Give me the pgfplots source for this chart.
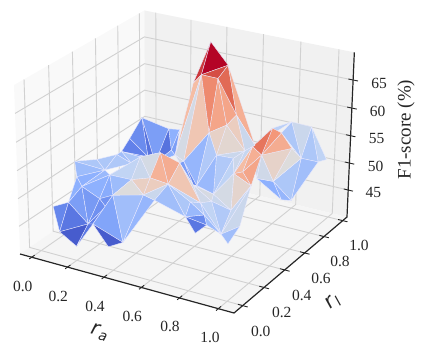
\documentclass[border=0pt]{standalone}
\usepackage{pgfplots}
\usepackage{pgfplotstable}
\usepackage{fontspec}
\pgfplotsset{compat=1.18}
\setmainfont{Liberation Serif}
\newfontfamily\dejavu{DejaVu Sans}

% surface points: r_a, r_l, F1-score (%)
\pgfplotstableread{
ra rl f1
0.79 0.996 56
0.90 0.99 56
0.98 1.00 50.5
1.00 0.87 52
0.94 0.81 53
0.93 0.62 60
0.93 0.53 62
0.92 0.36 61
0.94 0.41 59
0.965 0.66 57
0.92 0.57 52
0.78 0.67 50
0.99 0.52 50
1.00 0.60 48.8
0.40 0.89 69
0.48 0.92 65
0.43 0.75 65
0.47 0.84 63.5
0.345 0.82 62
0.65 0.70 60
0.62 0.66 58.5
0.56 0.60 57.5
0.44 0.49 54
0.51 0.45 54
0.74 0.72 55
0.73 0.64 55
0.64 0.53 55
0.695 0.595 54
0.575 0.46 50
0.75 0.31 52
0.81 0.39 55
0.91 0.29 57.5
0.97 0.26 56
0.93 0.15 53
0.78 0.24 52
0.745 0.20 52
0.62 0.35 52
0.60 0.26 57
0.53 0.205 59
0.64 0.09 56
0.60 0.00 58
0.44 0.10 55
0.39 0.02 53
0.54 0.04 54
0.55 0.12 52
0.64 0.29 50
0.64 0.245 48
0.72 0.28 48.5
0.71 0.32 46
0.65 0.32 44
0.87 0.17 48
0.96 0.18 50
1.00 0.00 50
0.00 0.91 52
0.12 0.97 50
0.172 0.99 50
0.265 0.75 50
0.21 0.69 48
0.175 0.68 49
0.03 0.67 49
0.015 0.77 50
0.31 0.39 54
0.00 0.30 52
0.08 0.37 52
0.195 0.26 52.5
0.07 0.21 51
0.15 0.13 51
0.26 0.20 53
0.28 0.36 53
0.26 0.11 50
0.30 0.10 49
0.25 0.065 46
0.23 0.055 46
0.09 0.105 48
0.02 0.08 47
0.08 0.04 43.5
0.20 0.00 42.5
0.33 0.07 42.5
0.41 0.07 44
0.131 0.466 52
}\verts

\pgfplotsset{
  table/proj/.style={
    x expr={scrx(uu(\thisrow{ra}),vv(\thisrow{rl}),ww(\thisrow{f1}))},
    y expr={scry(uu(\thisrow{ra}),vv(\thisrow{rl}),ww(\thisrow{f1}))},
  },
  gridline/.style={no marks,draw=black!18,line width=0.9pt},
  spine/.style={no marks,draw=black!85,line width=1.2pt},
  tickline/.style={no marks,draw=black!85,line width=0.9pt},
}

\begin{document}
\begin{tikzpicture}[
  declare function={
    uu(\a)=0.0578+0.8728*\a;
    vv(\a)=0.0707+0.888*\a;
    ww(\a)=0.1693+0.0334*(\a-45);
    wpersp(\u,\v,\w)=1-0.05744*\u+0.09154*\v-0.04*\w;
    scrx(\u,\v,\w)=(200.56*\u+138.27*\v-6.56*\w+20)/wpersp(\u,\v,\w);
    scry(\u,\v,\w)=(41.02*\u-70.62*\v-172.4*\w+254)/wpersp(\u,\v,\w);
  }]
\begin{axis}[
  scale only axis,
  width=426pt,
  height=353pt,
  xmin=0, xmax=426,
  ymin=0, ymax=353,
  y dir=reverse,
  hide axis,
  clip=false,
  point meta min=44,
  point meta max=65,
  colormap={coolwarm}{rgb255=(59,76,192) rgb255=(98,130,234) rgb255=(141,176,254)
    rgb255=(192,212,245) rgb255=(221,220,220) rgb255=(245,193,169) rgb255=(244,152,122)
    rgb255=(221,96,76) rgb255=(180,4,38)},
  colormap name=coolwarm,
]
% keep the page at the full size of the axis
\path (axis cs:0,0) rectangle (axis cs:426,353);
% panes
\addplot[fill=black!2.5,draw=none,forget plot] table[row sep=\\,proj] {
ra rl f1\\ -0.0662 -0.0796 39.93\\ -0.0662 1.0465 39.93\\ -0.0662 1.0465 69.87\\ -0.0662 -0.0796 69.87\\ -0.0662 -0.0796 39.93\\};
\addplot[fill=black!5.5,draw=none,forget plot] table[row sep=\\,proj] {
ra rl f1\\ -0.0662 1.0465 39.93\\ 1.0795 1.0465 39.93\\ 1.0795 1.0465 69.87\\ -0.0662 1.0465 69.87\\ -0.0662 1.0465 39.93\\};
\addplot[fill=black!4,draw=none,forget plot] table[row sep=\\,proj] {
ra rl f1\\ -0.0662 -0.0796 39.93\\ 1.0795 -0.0796 39.93\\ 1.0795 1.0465 39.93\\ -0.0662 1.0465 39.93\\ -0.0662 -0.0796 39.93\\};
% grid
\pgfplotsinvokeforeach{0,0.2,0.4,0.6,0.8,1}{
  \addplot[gridline] table[row sep=\\,proj] {
  ra rl f1\\ #1 -0.0796 39.93\\ #1 1.0465 39.93\\ #1 1.0465 69.87\\};
  \addplot[gridline] table[row sep=\\,proj] {
  ra rl f1\\ 1.0795 #1 39.93\\ -0.0662 #1 39.93\\ -0.0662 #1 69.87\\};
}
\pgfplotsinvokeforeach{45,50,55,60,65}{
  \addplot[gridline] table[row sep=\\,proj] {
  ra rl f1\\ -0.0662 -0.0796 #1\\ -0.0662 1.0465 #1\\ 1.0795 1.0465 #1\\};
}
% spines and tick marks
\addplot[spine] table[row sep=\\,proj] {
ra rl f1\\ -0.0662 -0.0796 39.93\\ 1.0795 -0.0796 39.93\\ 1.0795 1.0465 39.93\\ 1.0795 1.0465 69.87\\};
\pgfplotsinvokeforeach{0,0.2,0.4,0.6,0.8,1}{
  \addplot[tickline] table[row sep=\\,proj] {
  ra rl f1\\ #1 -0.1 39.93\\ #1 -0.055 39.93\\};
  \addplot[tickline] table[row sep=\\,proj] {
  ra rl f1\\ 1.055 #1 39.93\\ 1.105 #1 39.93\\};
}
\pgfplotsinvokeforeach{45,50,55,60,65}{
  \addplot[tickline] table[row sep=\\,proj] {
  ra rl f1\\ 1.055 1.0465 #1\\ 1.105 1.0465 #1\\};
}
% surface, back to front; last column of each row is the facet's mean F1-score
\addplot[patch,shader=faceted,faceted color=white!92!blue,line width=0.35pt,
  table/row sep=\\,
  patch table with point meta={
53 54 57 48.2\\
53 58 57 45.9\\
53 60 58 47.2\\
60 59 58 46.6\\
54 55 56 49.3\\
54 56 57 45.9\\
55 22 56 48.2\\
56 22 57 49.3\\
0 1 4 52.8\\
1 2 3 51.9\\
1 3 4 50.9\\
0 4 5 50.9\\
0 6 24 51.6\\
24 6 7 52.0\\
4 3 13 50.3\\
4 13 10 50.9\\
10 13 12 49.7\\
11 10 12 49.3\\
9 4 10 54.5\\
8 9 10 55.5\\
8 10 11 53.2\\
7 8 11 53.2\\
5 9 8 58.5\\
6 5 8 59.8\\
7 6 8 61.4\\
14 18 16 63.5\\
14 15 16 65\\
16 15 17 62.9\\
18 22 16 57.4\\
16 22 23 53.7\\
16 23 21 56.6\\
16 17 21 60.4\\
17 20 21 58.9\\
17 19 20 58.9\\
17 15 19 61.9\\
15 24 19 58.3\\
19 24 25 52.8\\
20 19 25 56\\
20 25 26 55.1\\
21 20 26 55.6\\
23 21 28 49.7\\
21 26 28 51.1\\
26 25 27 52.8\\
26 27 29 51.1\\
28 26 29 49.9\\
27 30 29 51.8\\
27 25 30 53\\
25 7 30 52.4\\
22 23 37 53.7\\
23 28 36 47.2\\
23 36 37 48.2\\
28 29 36 49.9\\
30 7 31 57.4\\
31 7 8 58.3\\
31 8 32 58.9\\
30 31 32 58.3\\
30 32 33 55.3\\
29 30 33 53.7\\
36 29 34 53.9\\
36 34 35 53.2\\
29 33 34 52.8\\
37 36 35 53.9\\
62 63 64 50.9\\
63 79 64 50.9\\
79 59 68 50.3\\
79 68 64 51\\
62 64 65 50.1\\
65 64 66 49.3\\
64 67 66 49.9\\
59 58 61 48.2\\
59 61 68 50.9\\
58 57 61 50.3\\
57 38 61 53.7\\
61 68 67 52\\
61 67 41 52\\
61 41 40 52.8\\
61 40 38 53.7\\
67 41 42 50.1\\
66 67 69 49.3\\
67 42 69 49\\
65 73 66 49.3\\
66 73 72 48.2\\
66 72 69 48\\
69 72 70 47.4\\
70 72 71 46.6\\
69 42 70 47.6\\
70 42 71 47.6\\
71 42 78 48.6\\
42 43 78 50.3\\
43 44 78 49.7\\
71 78 77 44.8\\
74 73 75 46.9\\
73 72 75 46.1\\
75 72 76 44.8\\
76 72 71 46.1\\
46 47 48 47.2\\
46 48 49 46.1\\
38 37 39 58.5\\
38 39 40 58.1\\
37 35 39 56.6\\
40 39 43 56\\
41 40 43 55.8\\
42 41 43 54.5\\
43 39 44 52.8\\
44 39 46 50.3\\
39 45 46 50.9\\
39 35 45 52\\
46 45 47 49.9\\
45 35 47 51.1\\
35 34 50 52\\
47 35 50 51.1\\
47 50 48 50.1\\
34 33 50 51.1\\
33 32 50 52.4\\
50 32 51 52.8\\
50 51 52 50.3\\
  }] table[proj] {\verts};
% tick labels and axis labels
\begin{scope}[every node/.style={font=\fontsize{15.5}{16}\selectfont,text=black!85}]
\node at (axis cs:22.7,286) {0.0};
\node at (axis cs:58.3,296) {0.2};
\node at (axis cs:95,306) {0.4};
\node at (axis cs:132.3,316.7) {0.6};
\node at (axis cs:170,326.7) {0.8};
\node at (axis cs:210,337.7) {1.0};
\node at (axis cs:260.7,331.7) {0.0};
\node at (axis cs:281.7,312.7) {0.2};
\node at (axis cs:301.7,295) {0.4};
\node at (axis cs:321,278.3) {0.6};
\node at (axis cs:340,261) {0.8};
\node at (axis cs:359,245) {1.0};
\node at (axis cs:373.3,192.7) {45};
\node at (axis cs:375.7,166) {50};
\node at (axis cs:376.7,138.3) {55};
\node at (axis cs:377.7,111) {60};
\node at (axis cs:379,83.3) {65};
\end{scope}
\node[rotate=90,text=black!85,font=\fontsize{19}{20}\selectfont] at (axis cs:406,129.7) {F1-score (\%)};
\node[rotate=-16,text=black!85,font=\dejavu\itshape\fontsize{20}{22}\selectfont] at (axis cs:99.3,332.7) {r\kern0.8pt\raisebox{-0.3ex}{\fontsize{14}{15}\selectfont a}};
\node[rotate=40,text=black!85,font=\dejavu\itshape\fontsize{20}{22}\selectfont] at (axis cs:333,302.7) {r\kern0.8pt\raisebox{-0.3ex}{\fontsize{14}{15}\selectfont l}};
\end{axis}
\end{tikzpicture}
\end{document}
